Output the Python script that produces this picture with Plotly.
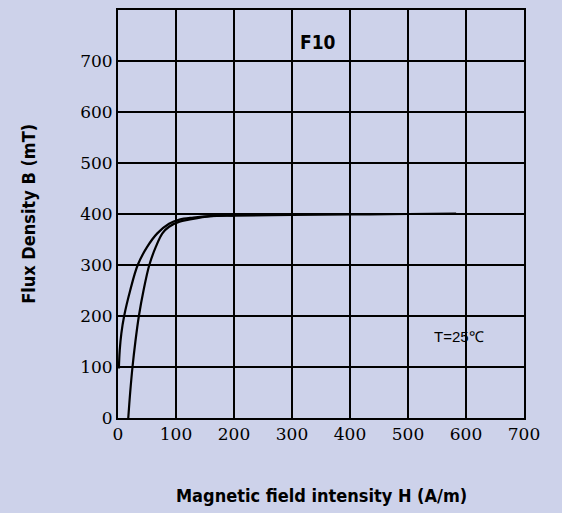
import plotly.graph_objects as go

# Data (H in A/m, B in mT)
h_upper = [1.5, 3, 5.8, 10.6, 21, 34, 50, 67.7, 88, 106, 130, 159, 200, 300, 400, 500, 583]
b_upper = [97, 133, 166, 200, 250, 300, 335, 362, 381, 389, 393, 396, 397, 398, 399, 400, 401]
h_lower = [17.7, 21, 25, 30, 36, 44, 54, 65, 76.5, 88, 106, 122, 159, 200]
b_lower = [0, 50, 100, 150, 200, 250, 300, 335, 362, 375, 385, 389, 396, 397]

x_ticks = [0, 100, 200, 300, 400, 500, 600, 700]
y_ticks = [0, 100, 200, 300, 400, 500, 600, 700]

BG = "#cdd2ea"
COND = "DejaVu Sans Condensed, Liberation Sans Narrow, Arial Narrow, sans-serif"
title_font = dict(family=COND, size=18, color="black")

fig = go.Figure()
for hx, by in ((h_upper, b_upper), (h_lower, b_lower)):
    fig.add_trace(go.Scatter(x=hx, y=by, mode="lines",
                             line=dict(color="black", width=2.2, shape="spline", smoothing=1.0),
                             showlegend=False, hoverinfo="skip"))

tick_font = dict(family="DejaVu Serif", size=17, color="black")

fig.update_layout(
    width=562, height=513,
    paper_bgcolor=BG, plot_bgcolor=BG,
    margin=dict(l=118, r=38, t=8, b=95),
    showlegend=False,
    xaxis=dict(range=[0, 700], tickvals=x_ticks, ticktext=[str(v) for v in x_ticks],
               showgrid=True, gridcolor="black", gridwidth=1.5,
               showline=True, linecolor="black", linewidth=2, mirror=True,
               zeroline=False, ticks="", ticklen=0, tickfont=tick_font),
    yaxis=dict(range=[0, 800], tickvals=y_ticks + [800], ticktext=[str(v) for v in y_ticks] + [""],
               showgrid=True, gridcolor="black", gridwidth=1.5,
               showline=True, linecolor="black", linewidth=2, mirror=True,
               zeroline=False, ticks="", ticklen=0, tickfont=tick_font),
    annotations=[
        dict(text="<b>Magnetic field intensity H (A/m)</b>", xref="paper", yref="paper",
             x=0.5, y=-0.19, xanchor="center", yanchor="middle", showarrow=False,
             font=title_font),
        dict(text="<b>Flux Density B (mT)</b>", xref="paper", yref="paper",
             x=-0.222, y=0.5, xanchor="center", yanchor="middle", showarrow=False,
             textangle=-90, font=title_font),
        dict(text="<b>F10</b>", x=345, y=737, xanchor="center", yanchor="middle",
             showarrow=False, font=dict(family=COND, size=19, color="black")),
        dict(text="T=25℃", x=588, y=160, xanchor="center", yanchor="middle",
             showarrow=False, font=dict(family="Liberation Sans", size=15, color="black")),
    ],
)

fig.write_html("out.html", config={"displayModeBar": False},
               post_script="document.body.style.margin='0';document.body.style.background='%s';" % BG)
